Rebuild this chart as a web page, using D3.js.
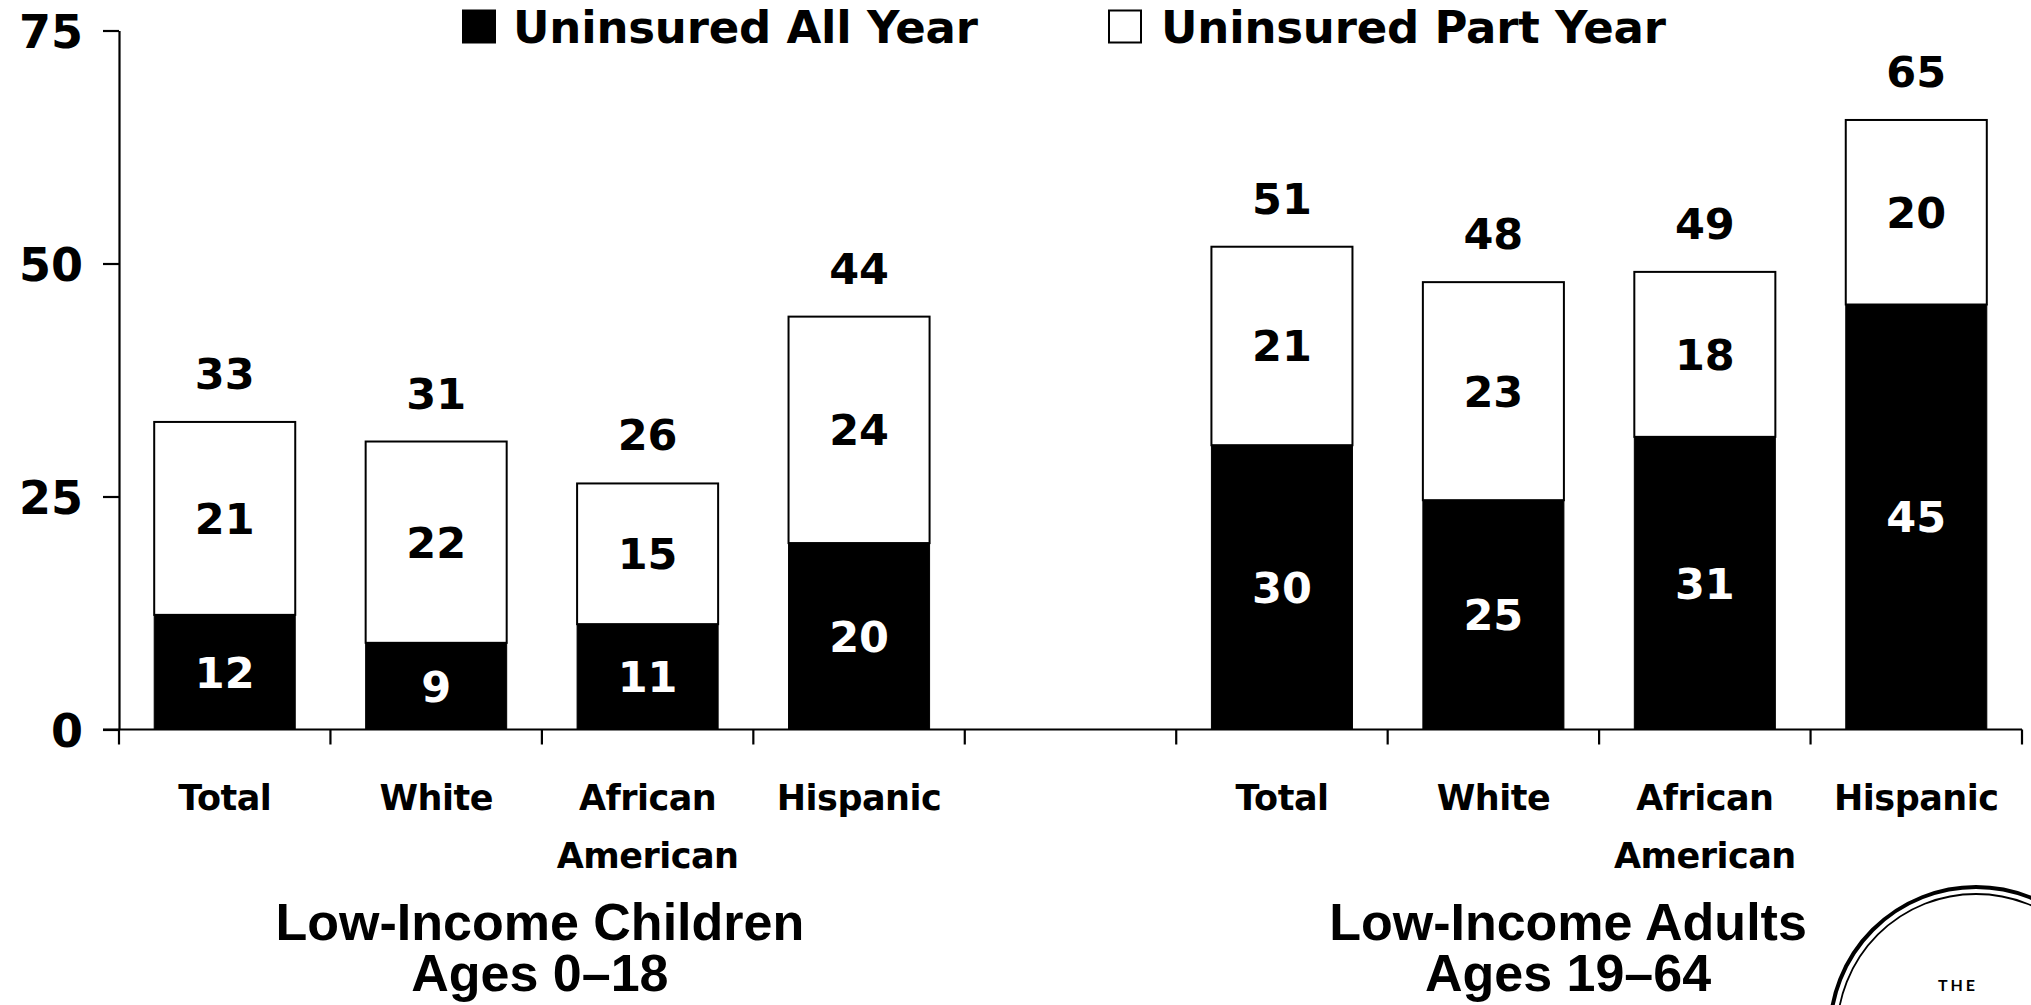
<!DOCTYPE html>
<html>
<head>
<meta charset="utf-8">
<script src="https://cdn.jsdelivr.net/npm/d3@7"></script>
<style>
  html, body { margin: 0; padding: 0; background: #fff; }
  svg { display: block; }
</style>
</head>
<body>
<svg id="chart" width="2031" height="1005"></svg>
<script>
// ---------- DATA ----------
const groupTitles = ["Low-Income Children", "Low-Income Adults"];
const groupSubtitles = ["Ages 0–18", "Ages 19–64"];
const categories = ["Total", "White", "African American", "Hispanic"];
const seriesNames = ["Uninsured All Year", "Uninsured Part Year"];

const allYearChildren  = [12.3, 9.3, 11.3, 20.0];
const partYearChildren = [20.7, 21.6, 15.1, 24.3];
const allYearAdults    = [30.5, 24.6, 31.4, 45.6];
const partYearAdults   = [21.3, 23.4, 17.7, 19.8];

const allYearLabels  = [12, 9, 11, 20, 30, 25, 31, 45];
const partYearLabels = [21, 22, 15, 24, 21, 23, 18, 20];
const totalLabels    = [33, 31, 26, 44, 51, 48, 49, 65];

const yTicks = [0, 25, 50, 75];

// ---------- BUILD ROWS ----------
const rows = [];
categories.forEach((c, i) => rows.push({key: "c" + i, group: 0, cat: c, all: allYearChildren[i], part: partYearChildren[i]}));
categories.forEach((c, i) => rows.push({key: "a" + i, group: 1, cat: c, all: allYearAdults[i], part: partYearAdults[i]}));
rows.forEach((r, i) => { r.allLabel = allYearLabels[i]; r.partLabel = partYearLabels[i]; r.totalLabel = totalLabels[i]; });

const domainKeys = ["c0", "c1", "c2", "c3", "gap", "a0", "a1", "a2", "a3"];

// ---------- SCALES ----------
const svg = d3.select("#chart");
const x = d3.scaleBand().domain(domainKeys).range([119, 2022]).padding(0);
const xBar = d3.scaleBand().domain(domainKeys).range([119, 2022]).paddingInner(0.333).paddingOuter(0.1665);
const y = d3.scaleLinear().domain([0, 75]).range([729.5, 30.5]);

const boldWide = "'DejaVu Sans', sans-serif";
const boldArial = "'Liberation Sans', Arial, sans-serif";

// ---------- Y AXIS ----------
const yAxis = d3.axisLeft(y).tickValues(yTicks).tickSize(16).tickSizeOuter(0).tickPadding(20);
const gy = svg.append("g").attr("transform", "translate(119,0)").call(yAxis);
gy.select(".domain").attr("stroke", "#000").attr("stroke-width", 2.2);
gy.selectAll(".tick line").attr("stroke", "#000").attr("stroke-width", 2.2);
gy.selectAll(".tick text")
  .attr("font-family", boldWide).attr("font-weight", "bold").attr("font-size", 46)
  .attr("fill", "#000").attr("dy", "0.36em");

// ---------- X AXIS (band boundaries) ----------
const boundaries = domainKeys.map(k => x(k)).concat([x.range()[1]]);
svg.append("line")
  .attr("x1", 103).attr("x2", x.range()[1])
  .attr("y1", y(0)).attr("y2", y(0))
  .attr("stroke", "#000").attr("stroke-width", 2.2);
svg.append("g").selectAll("line").data(boundaries).join("line")
  .attr("x1", d => d).attr("x2", d => d)
  .attr("y1", y(0)).attr("y2", y(0) + 15)
  .attr("stroke", "#000").attr("stroke-width", 2.2);

// ---------- BARS ----------
const bars = svg.append("g");
bars.selectAll("rect.part").data(rows).join("rect").attr("class", "part")
  .attr("x", d => xBar(d.key)).attr("width", xBar.bandwidth())
  .attr("y", d => y(d.all + d.part)).attr("height", d => y(d.all) - y(d.all + d.part))
  .attr("fill", "#fff").attr("stroke", "#000").attr("stroke-width", 2);
bars.selectAll("rect.all").data(rows).join("rect").attr("class", "all")
  .attr("x", d => xBar(d.key)).attr("width", xBar.bandwidth())
  .attr("y", d => y(d.all)).attr("height", d => y(0) - y(d.all))
  .attr("fill", "#000").attr("stroke", "#000").attr("stroke-width", 1);

// segment labels
const cx = d => xBar(d.key) + xBar.bandwidth() / 2;
svg.append("g").selectAll("text").data(rows).join("text")
  .attr("x", cx).attr("y", d => (y(0) + y(d.all)) / 2).attr("dy", "0.36em")
  .attr("text-anchor", "middle")
  .attr("font-family", boldWide).attr("font-weight", "bold").attr("font-size", 43)
  .attr("fill", "#fff").text(d => d.allLabel);
svg.append("g").selectAll("text").data(rows).join("text")
  .attr("x", cx).attr("y", d => (y(d.all) + y(d.all + d.part)) / 2).attr("dy", "0.36em")
  .attr("text-anchor", "middle")
  .attr("font-family", boldWide).attr("font-weight", "bold").attr("font-size", 43)
  .attr("fill", "#000").text(d => d.partLabel);
svg.append("g").selectAll("text").data(rows).join("text")
  .attr("x", cx).attr("y", d => y(d.all + d.part) - 33)
  .attr("text-anchor", "middle")
  .attr("font-family", boldWide).attr("font-weight", "bold").attr("font-size", 43)
  .attr("fill", "#000").text(d => d.totalLabel);

// ---------- CATEGORY LABELS ----------
const catG = svg.append("g");
rows.forEach(r => {
  const words = r.cat === "African American" ? ["African", "American"] : [r.cat];
  const t = catG.append("text")
    .attr("x", x(r.key) + x.bandwidth() / 2).attr("y", 810)
    .attr("text-anchor", "middle")
    .attr("font-family", boldWide).attr("font-weight", "bold").attr("font-size", 35)
    .attr("letter-spacing", -0.5)
    .attr("fill", "#000");
  words.forEach((w, i) => {
    t.append("tspan").attr("x", x(r.key) + x.bandwidth() / 2).attr("y", 810 + i * 58).text(w);
  });
});

// ---------- GROUP TITLES ----------
const groupCenters = [
  (x("c0") + x("c3") + x.bandwidth()) / 2 - 2,
  1568
];
groupTitles.forEach((g, i) => {
  const t = svg.append("text")
    .attr("text-anchor", "middle")
    .attr("font-family", boldArial).attr("font-weight", "bold").attr("font-size", 52)
    .attr("fill", "#000");
  t.append("tspan").attr("x", groupCenters[i]).attr("y", 940).text(g);
  t.append("tspan").attr("x", groupCenters[i]).attr("y", 991).text(groupSubtitles[i]);
});

// ---------- LEGEND ----------
const legendItems = [
  {name: seriesNames[0], fill: "#000", sx: 463, tx: 513},
  {name: seriesNames[1], fill: "#fff", sx: 1109, tx: 1161}
];
const lg = svg.append("g");
legendItems.forEach(it => {
  lg.append("rect").attr("x", it.sx).attr("y", 10.5).attr("width", 32).attr("height", 32)
    .attr("fill", it.fill).attr("stroke", "#000").attr("stroke-width", 2);
  lg.append("text").attr("x", it.tx).attr("y", 43)
    .attr("font-family", boldWide).attr("font-weight", "bold").attr("font-size", 45)
    .attr("letter-spacing", -0.2)
    .attr("fill", "#000").text(it.name);
});

// ---------- LOGO (partial, bottom-right) ----------
const logo = svg.append("g");
logo.append("circle").attr("cx", 1976).attr("cy", 1033).attr("r", 146)
  .attr("fill", "none").attr("stroke", "#000").attr("stroke-width", 4);
logo.append("circle").attr("cx", 1976).attr("cy", 1033).attr("r", 139)
  .attr("fill", "none").attr("stroke", "#000").attr("stroke-width", 1.8);
logo.append("text").attr("x", 1958).attr("y", 991).attr("text-anchor", "middle")
  .attr("font-family", "Lato, 'Noto Sans', sans-serif").attr("font-weight", "bold")
  .attr("font-size", 16).attr("letter-spacing", 3).attr("fill", "#000").text("THE");
</script>
</body>
</html>
